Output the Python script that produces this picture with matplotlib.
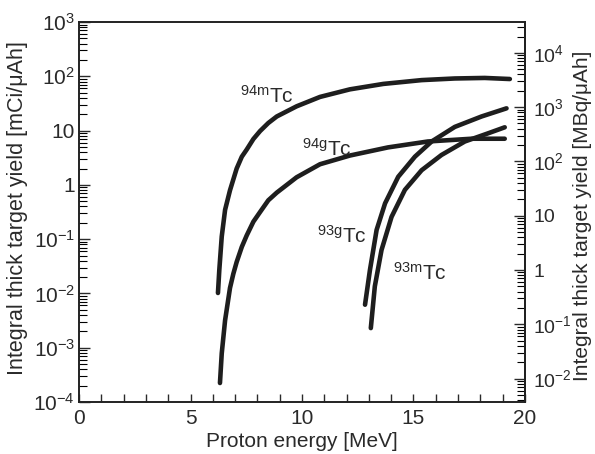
import matplotlib
matplotlib.use('Agg')
import matplotlib.pyplot as plt
import numpy as np
from matplotlib.ticker import FuncFormatter, LogLocator, MultipleLocator, NullFormatter

plt.rcParams['font.family'] = ['Liberation Sans', 'DejaVu Sans']
plt.rcParams['mathtext.fontset'] = 'custom'
plt.rcParams['mathtext.rm'] = 'Liberation Sans'
plt.rcParams['mathtext.it'] = 'Liberation Sans:italic'
plt.rcParams['mathtext.bf'] = 'Liberation Sans:bold'

# proton energy [MeV] and yield [mCi/uAh]
e_94m = [6.23, 6.29, 6.40, 6.55, 6.77, 7.07, 7.30, 7.52, 7.82, 8.12, 8.49, 8.87, 9.76, 10.81, 12.15, 13.65, 15.37, 16.86, 18.2, 19.33]
y_94m = [0.0102, 0.0269, 0.112, 0.347, 0.794, 2.0, 3.3, 4.47, 7.0, 9.8, 13.8, 18.2, 28.0, 41.7, 57.5, 72.4, 85.1, 91.2, 93.3, 89.1]

e_94g = [6.32, 6.40, 6.55, 6.77, 6.92, 7.07, 7.30, 7.52, 7.82, 8.12, 8.49, 8.87, 9.76, 10.81, 12.15, 13.86, 15.65, 17.61, 19.10]
y_94g = [2.24e-4, 7.9e-4, 3.2e-3, 0.0126, 0.023, 0.038, 0.072, 0.117, 0.21, 0.316, 0.52, 0.72, 1.38, 2.4, 3.47, 4.9, 6.3, 7.08, 7.08]

e_93g = [12.83, 13.05, 13.35, 13.73, 14.32, 15.07, 15.82, 16.86, 18.06, 19.18]
y_93g = [6.2e-3, 0.0269, 0.148, 0.457, 1.41, 3.31, 6.3, 11.7, 18.2, 25.7]

e_93m = [13.09, 13.27, 13.57, 14.02, 14.62, 15.37, 16.26, 17.31, 18.35, 19.10]
y_93m = [2.3e-3, 0.0135, 0.063, 0.257, 0.81, 1.86, 3.55, 6.3, 8.9, 11.5]

# label (text, energy, yield)
labels = [(r'$\mathregular{^{94m}}$Tc', 7.22, 32),
          (r'$\mathregular{^{94g}}$Tc', 10.0, 3.5),
          (r'$\mathregular{^{93g}}$Tc', 10.67, 0.085),
          (r'$\mathregular{^{93m}}$Tc', 14.08, 0.018)]

MBQ_PER_MCI = 37.0


def fmt(v, pos):
    e = int(round(np.log10(v)))
    if e == 0:
        return '1'
    if e == 1:
        return '10'
    return r'$\mathregular{10^{%d}}$' % e


fig = plt.figure(figsize=(5.95, 4.54), dpi=100)
ax = fig.add_axes([0.133, 0.1145, 0.749, 0.837])

col = '#1e1e1e'
txt = '#2a2a2a'
for e, y in [(e_94m, y_94m), (e_94g, y_94g), (e_93g, y_93g), (e_93m, y_93m)]:
    ax.plot(e, y, color=col, lw=3.3, solid_capstyle='round', solid_joinstyle='round')

for t, x, y in labels:
    ax.text(x, y, t, fontsize=15, color=txt, ha='left', va='baseline')

ax.set_yscale('log')
ax.set_xlim(0, 20)
ax.set_ylim(1e-4, 1e3)

ax.xaxis.set_major_locator(MultipleLocator(5))
ax.xaxis.set_minor_locator(MultipleLocator(1))
ax.yaxis.set_major_locator(LogLocator(base=10, numticks=20))
ax.yaxis.set_minor_locator(LogLocator(base=10, subs=np.arange(2, 10), numticks=20))
ax.yaxis.set_major_formatter(FuncFormatter(fmt))
ax.yaxis.set_minor_formatter(NullFormatter())

ax.tick_params(axis='x', which='both', direction='in', length=6, width=1, top=False,
               labelsize=15, pad=5, colors=txt)
ax.tick_params(axis='y', which='major', direction='in', length=8, width=1, right=False,
               labelsize=15, pad=3, colors=txt)
ax.tick_params(axis='y', which='minor', direction='in', length=6, width=0.8, right=False)

sec = ax.secondary_yaxis('right', functions=(lambda y: y * MBQ_PER_MCI, lambda y: y / MBQ_PER_MCI))
sec.yaxis.set_major_locator(LogLocator(base=10, numticks=20))
sec.yaxis.set_minor_locator(LogLocator(base=10, subs=np.arange(2, 10), numticks=20))
sec.yaxis.set_major_formatter(FuncFormatter(fmt))
sec.yaxis.set_minor_formatter(NullFormatter())
sec.tick_params(axis='y', which='major', direction='in', length=8, width=1,
                labelsize=14, pad=6, colors=txt)
sec.tick_params(axis='y', which='minor', direction='in', length=6, width=0.8)
sec.spines['right'].set_linewidth(1.4)

for s in ax.spines.values():
    s.set_linewidth(1.4)
    s.set_color('#222222')

ax.set_xlabel('Proton energy [MeV]', fontsize=15, color=txt, labelpad=3)
ax.set_ylabel('Integral thick target yield [mCi/μAh]', fontsize=15.5, color=txt)
ax.yaxis.set_label_coords(-0.115, 0.51)
sec.set_ylabel('Integral thick target yield [MBq/μAh]', fontsize=15, color=txt)
sec.yaxis.set_label_coords(1.108, 0.49, transform=ax.transAxes)

fig.savefig('out.png', dpi=100)
